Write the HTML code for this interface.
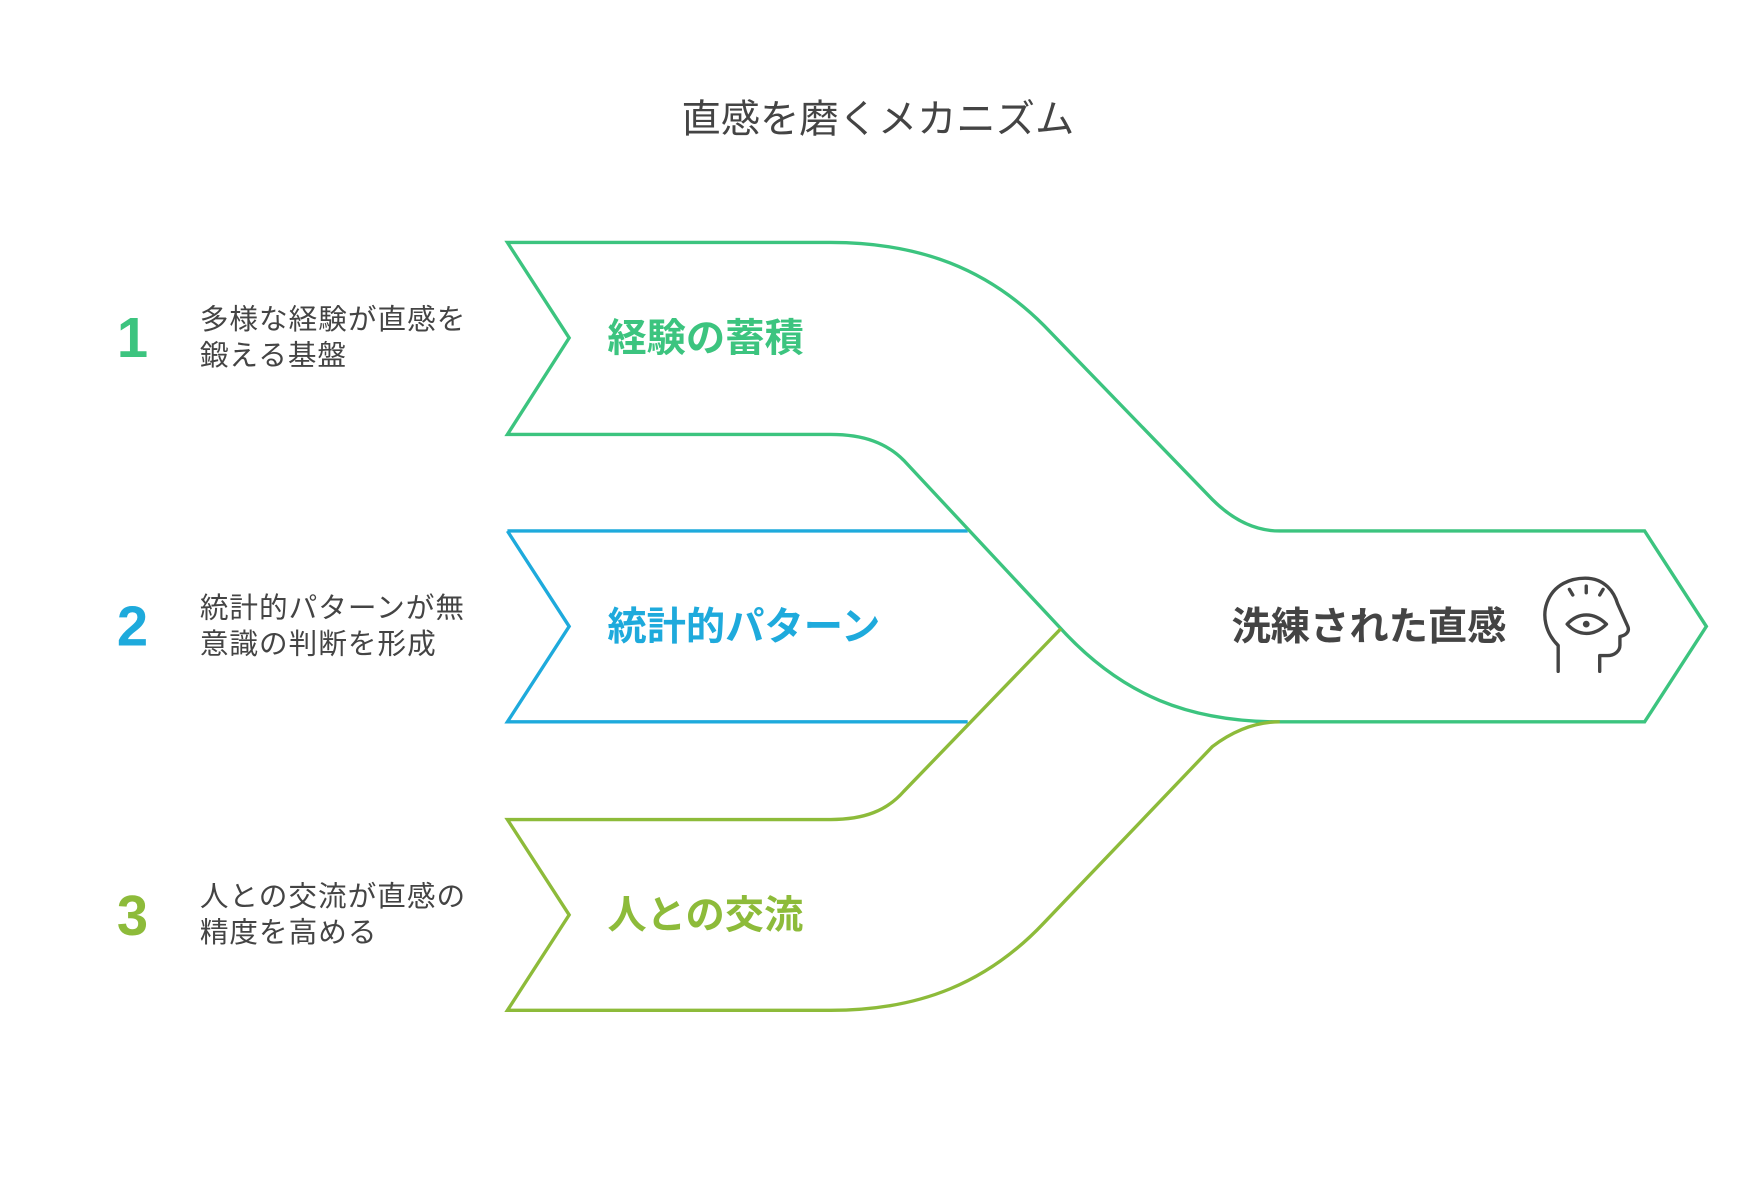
<!DOCTYPE html>
<html><head><meta charset="utf-8"><style>
html,body{margin:0;padding:0;background:#fff;}
svg{display:block;}
text{font-family:"Liberation Sans","Noto Sans CJK JP",sans-serif;}
</style></head><body>
<svg width="1758" height="1204" viewBox="0 0 1566 1072.5" xmlns="http://www.w3.org/2000/svg">
<rect width="1566" height="1072.5" fill="#fff"/>
<text x="782" y="118" font-size="35" fill="#444" text-anchor="middle">直感を磨くメカニズム</text>
<g fill="none" stroke-width="3" stroke-linejoin="miter">
<path d="M452,473 L862,473 M452,473 L507,558 L452,643 L862,643" stroke="#1eaadc"/>
<path d="M452,216 L740,216 C820,216 880,240 930,290 L1080,445 C1100,465 1120,473 1140,473 L1465,473 L1520,558 L1465,643 L1140,643 C1060,643 1000,620 945,560 L805,410 C790,395 770,387 740,387 L452,387 L507,301 Z" stroke="#3cc47f"/>
<path d="M945,560 L805,705 C790,722 770,730 740,730 L452,730 L507,815 L452,900 L740,900 C820,900 880,875 930,822 L1080,665 C1100,650 1120,643 1140,643" stroke="#8dbb3a"/>
</g>
<g font-weight="bold" font-size="50" text-anchor="middle">
<text x="118" y="318" fill="#3cc47f">1</text>
<text x="118" y="575" fill="#1eaadc">2</text>
<text x="118" y="833" fill="#8dbb3a">3</text>
</g>
<g font-size="25.5" fill="#444" letter-spacing="0.9">
<text x="178" y="293">多様な経験が直感を</text>
<text x="178" y="325">鍛える基盤</text>
<text x="178" y="550">統計的パターンが無</text>
<text x="178" y="582">意識の判断を形成</text>
<text x="178" y="807">人との交流が直感の</text>
<text x="178" y="839">精度を高める</text>
</g>
<g font-weight="bold" font-size="35">
<text x="541" y="313" fill="#3cc47f">経験の蓄積</text>
<text x="541" y="570" fill="#1eaadc">統計的パターン</text>
<text x="541" y="827" fill="#8dbb3a">人との交流</text>
<text x="1097" y="570" fill="#444">洗練された直感</text>
</g>
<g fill="none" stroke="#444" stroke-width="3" stroke-linecap="round" stroke-linejoin="round">
<path d="M1388,598 L1388,575 C1376,563 1374,548 1378,537 C1384,520 1400,515 1412,515 C1430,515 1438,528 1441,538 L1450,558 C1452,563 1448,566 1443,567 L1443,575 C1443,580 1438,584 1432,584 L1425,584 L1425,598"/>
<path d="M1396,556 C1406,545 1420,545 1431,556 C1420,567 1406,567 1396,556 Z"/>
<path d="M1413,522 L1413,528 M1398,525 L1401,530 M1428,525 L1425,530"/>
</g>
<circle cx="1413" cy="556" r="3" fill="#444"/>
</svg>
</body></html>
